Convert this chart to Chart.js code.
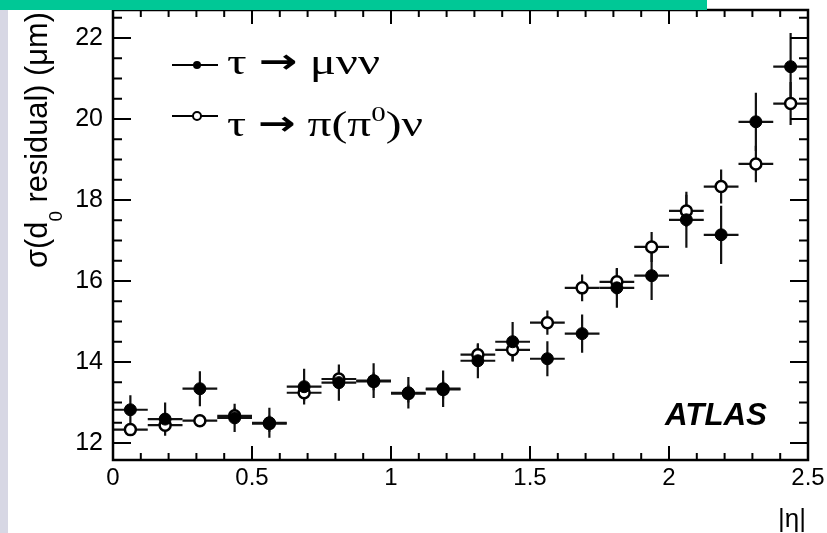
<!DOCTYPE html>
<html>
<head>
<meta charset="utf-8">
<script src="https://cdn.jsdelivr.net/npm/chart.js@4.4.1/dist/chart.umd.min.js"></script>
<style>
html, body { margin: 0; padding: 0; background: #fff; }
#wrap { position: relative; width: 827px; height: 533px; }
</style>
</head>
<body>
<div id="wrap"><canvas id="c" width="827" height="533"></canvas></div>
<script>
// |eta| bin centres, bins are 0.125 wide
const etaCenters = [0.0625, 0.1875, 0.3125, 0.4375, 0.5625, 0.6875, 0.8125, 0.9375, 1.0625, 1.1875,
                    1.3125, 1.4375, 1.5625, 1.6875, 1.8125, 1.9375, 2.0625, 2.1875, 2.3125, 2.4375];
const etaHalfWidth = 0.0625;

// tau -> mu nu nu (filled)
const muSigma = [12.82, 12.59, 13.34, 12.62, 12.50, 13.39, 13.49, 13.54, 13.24, 13.34,
                 14.03, 14.50, 14.08, 14.70, 15.83, 16.13, 17.51, 17.14, 19.93, 21.29];
const muErr   = [0.36, 0.41, 0.43, 0.35, 0.37, 0.44, 0.45, 0.43, 0.39, 0.45,
                 0.43, 0.49, 0.43, 0.47, 0.49, 0.60, 0.69, 0.72, 0.72, 0.83];

// tau -> pi (pi0) nu (open)
const piSigma = [12.33, 12.44, 12.55, 12.67, 12.48, 13.24, 13.58, 13.52, 13.22, 13.32,
                 14.18, 14.30, 14.97, 15.83, 15.98, 16.84, 17.73, 18.33, 18.89, 20.38];
const piErr   = [0.15, 0.18, 0.15, 0.20, 0.20, 0.20, 0.22, 0.22, 0.22, 0.22,
                 0.25, 0.28, 0.30, 0.33, 0.33, 0.37, 0.40, 0.42, 0.45, 0.53];

const xTicks = [0, 0.5, 1, 1.5, 2, 2.5];
const xTickLabels = ['0', '0.5', '1', '1.5', '2', '2.5'];
const yTicks = [12, 14, 16, 18, 20, 22];
const yTickLabels = ['12', '14', '16', '18', '20', '22'];

const toPoints = (ys) => etaCenters.map((x, i) => ({x: x, y: ys[i]}));

// draws text runs squeezed/stretched to a given width
function drawRuns(ctx, runs, x, y, targetW) {
  let w = 0;
  runs.forEach(r => { ctx.font = r.font; w += ctx.measureText(r.t).width; });
  ctx.save();
  ctx.translate(x, y);
  ctx.scale(targetW / w, 1);
  let cx = 0;
  runs.forEach(r => {
    ctx.font = r.font;
    ctx.fillText(r.t, cx, r.dy || 0);
    cx += ctx.measureText(r.t).width;
  });
  ctx.restore();
}

const decor = {
  id: 'decor',
  beforeDatasetsDraw(chart) {
    const ctx = chart.ctx, xs = chart.scales.x, ys = chart.scales.y;
    ctx.save();
    ctx.strokeStyle = '#111';
    ctx.lineWidth = 2.2;
    [[piSigma, piErr], [muSigma, muErr]].forEach(([vals, errs]) => {
      etaCenters.forEach((eta, i) => {
        const px = xs.getPixelForValue(eta);
        const py = ys.getPixelForValue(vals[i]);
        ctx.beginPath();
        ctx.moveTo(xs.getPixelForValue(eta - etaHalfWidth), py);
        ctx.lineTo(xs.getPixelForValue(eta + etaHalfWidth), py);
        ctx.moveTo(px, ys.getPixelForValue(vals[i] - errs[i]));
        ctx.lineTo(px, ys.getPixelForValue(vals[i] + errs[i]));
        ctx.stroke();
      });
    });
    ctx.restore();
  },
  afterDraw(chart) {
    const ctx = chart.ctx, a = chart.chartArea;
    const xs = chart.scales.x, ys = chart.scales.y;
    ctx.save();
    ctx.strokeStyle = '#000';
    ctx.fillStyle = '#000';

    // inward ticks on all four sides (ROOT style)
    ctx.lineWidth = 2;
    ctx.beginPath();
    for (let i = 0; i <= 25; i++) {
      const px = xs.getPixelForValue(i / 10);
      const len = i % 5 === 0 ? 14 : 7;
      ctx.moveTo(px, a.bottom); ctx.lineTo(px, a.bottom - len);
      ctx.moveTo(px, a.top); ctx.lineTo(px, a.top + len);
    }
    for (let i = 24; i <= 45; i++) {
      const v = i / 2;
      const py = ys.getPixelForValue(v);
      const len = v % 2 === 0 ? 18 : 9;
      ctx.moveTo(a.left, py); ctx.lineTo(a.left + len, py);
      ctx.moveTo(a.right, py); ctx.lineTo(a.right - len, py);
    }
    ctx.stroke();

    // frame
    ctx.lineWidth = 2.5;
    ctx.strokeRect(a.left, a.top, a.right - a.left, a.bottom - a.top);

    // legend
    ctx.lineWidth = 2;
    ctx.beginPath();
    ctx.moveTo(172, 65); ctx.lineTo(218, 65);
    ctx.moveTo(172, 116); ctx.lineTo(218, 116);
    ctx.stroke();
    ctx.beginPath(); ctx.arc(197, 65, 4, 0, Math.PI * 2); ctx.fill();
    ctx.fillStyle = '#fff';
    ctx.beginPath(); ctx.arc(197, 116, 4, 0, Math.PI * 2); ctx.fill(); ctx.stroke();
    ctx.fillStyle = '#000';

    ctx.textBaseline = 'alphabetic';
    const serif = '"Liberation Serif", "DejaVu Serif", serif';
    const arrow = 'bold 34px "DejaVu Sans", sans-serif';
    drawRuns(ctx, [
      {t: 'τ ', font: '36px ' + serif},
      {t: '→', font: arrow, dy: -1},
      {t: ' μνν', font: '36px ' + serif}
    ], 227, 74, 153);
    drawRuns(ctx, [
      {t: 'τ ', font: '36px ' + serif},
      {t: '→', font: arrow, dy: -1},
      {t: ' π(π', font: '36px ' + serif},
      {t: '0', font: '22px ' + serif, dy: -15},
      {t: ')ν', font: '36px ' + serif}
    ], 227, 136, 196);

    // ATLAS label
    drawRuns(ctx, [{t: 'ATLAS', font: 'italic bold 31px "Liberation Sans", Arial, sans-serif'}], 665, 425, 102);

    // x title
    ctx.font = '26px "Liberation Sans", Arial, sans-serif';
    ctx.textAlign = 'center';
    ctx.fillText('|η|', 792, 527);
    ctx.textAlign = 'left';

    // y title, rotated, reading upwards
    ctx.save();
    ctx.translate(47, 268);
    ctx.rotate(-Math.PI / 2);
    drawRuns(ctx, [
      {t: 'σ(d', font: '31px "Liberation Sans", Arial, sans-serif'},
      {t: '0', font: '19px "Liberation Sans", Arial, sans-serif', dy: 15},
      {t: ' residual) (μm)', font: '31px "Liberation Sans", Arial, sans-serif'}
    ], 0, 0, 256);
    ctx.restore();

    // page decorations around the picture
    ctx.fillStyle = '#d7d7e4';
    ctx.fillRect(0, 0, 8, 533);
    ctx.fillStyle = '#00c896';
    ctx.fillRect(0, 0, 707, 10);
    ctx.restore();
  }
};

new Chart(document.getElementById('c'), {
  type: 'scatter',
  data: {
    datasets: [
      {
        label: 'τ → μνν',
        data: toPoints(muSigma),
        pointRadius: 6,
        pointBackgroundColor: '#000',
        pointBorderColor: '#000',
        pointBorderWidth: 1
      },
      {
        label: 'τ → π(π0)ν',
        data: toPoints(piSigma),
        pointRadius: 5.5,
        pointBackgroundColor: '#fff',
        pointBorderColor: '#000',
        pointBorderWidth: 2.5
      }
    ]
  },
  options: {
    responsive: false,
    animation: false,
    layout: { padding: { left: 0, top: 10, right: 19, bottom: 0 } },
    plugins: { legend: { display: false }, tooltip: { enabled: false } },
    scales: {
      x: {
        type: 'linear',
        min: 0,
        max: 2.5,
        grid: { display: false, drawTicks: false },
        border: { display: false },
        afterBuildTicks: s => { s.ticks = xTicks.map(v => ({value: v})); },
        afterFit: s => { s.height = 73; s.paddingLeft = 0; s.paddingRight = 0; },
        ticks: {
          padding: 4,
          color: '#000',
          maxRotation: 0,
          font: { family: '"Liberation Sans", Arial, sans-serif', size: 24 },
          callback: (v, i) => xTickLabels[i]
        }
      },
      y: {
        type: 'linear',
        min: 11.58,
        max: 22.69,
        grid: { display: false, drawTicks: false },
        border: { display: false },
        afterBuildTicks: s => { s.ticks = yTicks.map(v => ({value: v})); },
        afterFit: s => { s.width = 113; s.paddingTop = 0; s.paddingBottom = 0; },
        ticks: {
          padding: 10,
          color: '#000',
          font: { family: '"Liberation Sans", Arial, sans-serif', size: 25 },
          callback: (v, i) => yTickLabels[i]
        }
      }
    }
  },
  plugins: [decor]
});
</script>
</body>
</html>
